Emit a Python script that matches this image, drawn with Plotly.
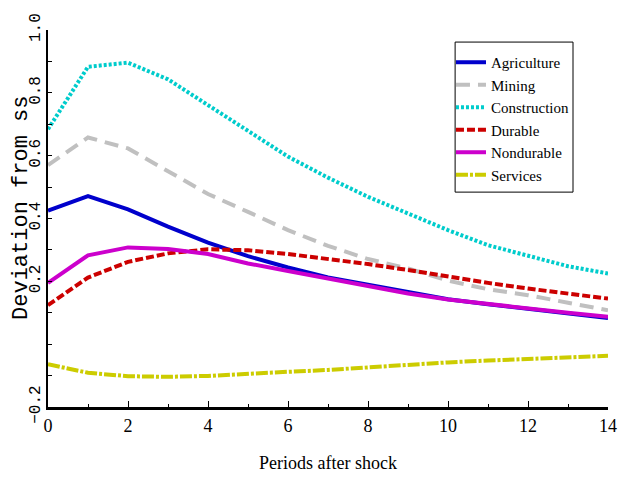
import plotly.graph_objects as go

periods = list(range(15))
agriculture = [0.425, 0.471, 0.429, 0.374, 0.323, 0.280, 0.244, 0.212, 0.189, 0.166, 0.143, 0.127, 0.113, 0.098, 0.083]
mining = [0.570, 0.658, 0.623, 0.549, 0.478, 0.421, 0.363, 0.313, 0.271, 0.241, 0.202, 0.175, 0.156, 0.132, 0.108]
construction = [0.684, 0.883, 0.896, 0.843, 0.761, 0.679, 0.597, 0.530, 0.469, 0.416, 0.363, 0.315, 0.280, 0.248, 0.225]
durable = [0.124, 0.212, 0.262, 0.289, 0.302, 0.299, 0.287, 0.272, 0.255, 0.236, 0.214, 0.195, 0.177, 0.161, 0.145]
nondurable = [0.195, 0.283, 0.308, 0.303, 0.287, 0.257, 0.233, 0.210, 0.185, 0.161, 0.142, 0.127, 0.114, 0.100, 0.087]
services = [-0.064, -0.091, -0.102, -0.104, -0.101, -0.096, -0.088, -0.082, -0.073, -0.066, -0.058, -0.052, -0.047, -0.041, -0.037]

series_names = ["Agriculture", "Mining", "Construction", "Durable", "Nondurable", "Services"]
series_values = [agriculture, mining, construction, durable, nondurable, services]
colors = ["#0000cc", "#c0c0c0", "#00cccc", "#cc0000", "#cc00cc", "#cccc00"]
dashes = ["solid", "14px,8px", "3px,2px", "8px,3px", "solid", "12px,2px,3px,2px"]

y_tickvals = [-0.2, -0.1, 0.0, 0.1, 0.2, 0.3, 0.4, 0.5, 0.6, 0.7, 0.8, 0.9, 1.0]
y_ticktext = ["\u22120.2", "", "", "", "0.2", "", "0.4", "", "0.6", "", "0.8", "", "1.0"]

serif = "Liberation Serif, serif"
mono = "Liberation Mono, Courier New, monospace"

fig = go.Figure()
for name, vals, col, dsh in zip(series_names, series_values, colors, dashes):
    fig.add_trace(go.Scatter(x=periods, y=vals, mode="lines", name=name,
                             line=dict(color=col, width=4, dash=dsh)))

fig.update_layout(
    width=626, height=481,
    margin=dict(l=48, r=18, t=30, b=74),
    plot_bgcolor="white", paper_bgcolor="white",
    showlegend=True,
    legend=dict(x=0.7196, y=0.9576, xanchor="left", yanchor="top",
                bgcolor="rgba(0,0,0,0)", borderwidth=0,
                font=dict(family=serif, size=15, color="black"),
                itemwidth=30, tracegroupgap=0),
    shapes=[dict(type="rect", xref="paper", yref="paper",
                 x0=0.727, x1=0.9375, y0=0.570, y1=0.968,
                 line=dict(color="black", width=1), fillcolor="white", layer="above")],
    annotations=[dict(text="Deviation from ss", textangle=-90,
                      xref="paper", yref="paper", x=-0.0464, y=0.528,
                      xanchor="center", yanchor="middle", showarrow=False,
                      font=dict(family=mono, size=22, color="black"))],
)
fig.update_xaxes(
    range=[0, 14], dtick=2, tick0=0, ticks="inside", ticklen=6, tickwidth=1,
    tickcolor="black", showgrid=False, zeroline=False, automargin=False,
    showline=True, linecolor="black", linewidth=3,
    minor=dict(dtick=1, ticks="inside", ticklen=3, tickcolor="black"),
    tickfont=dict(family=serif, size=18, color="black"),
    title=dict(text="Periods after shock", font=dict(family=serif, size=18, color="black"), standoff=22),
)
fig.update_yaxes(
    range=[-0.2, 1.0], tickvals=y_tickvals, ticktext=y_ticktext,
    ticks="inside", ticklen=4, tickwidth=1, tickcolor="black", tickangle=-90,
    showgrid=False, zeroline=False, automargin=False,
    showline=True, linecolor="black", linewidth=2,
    tickfont=dict(family=mono, size=16, color="black"),
)

fig.write_html("out.html", config={"displayModeBar": False},
               post_script="document.body.style.margin='0';")
